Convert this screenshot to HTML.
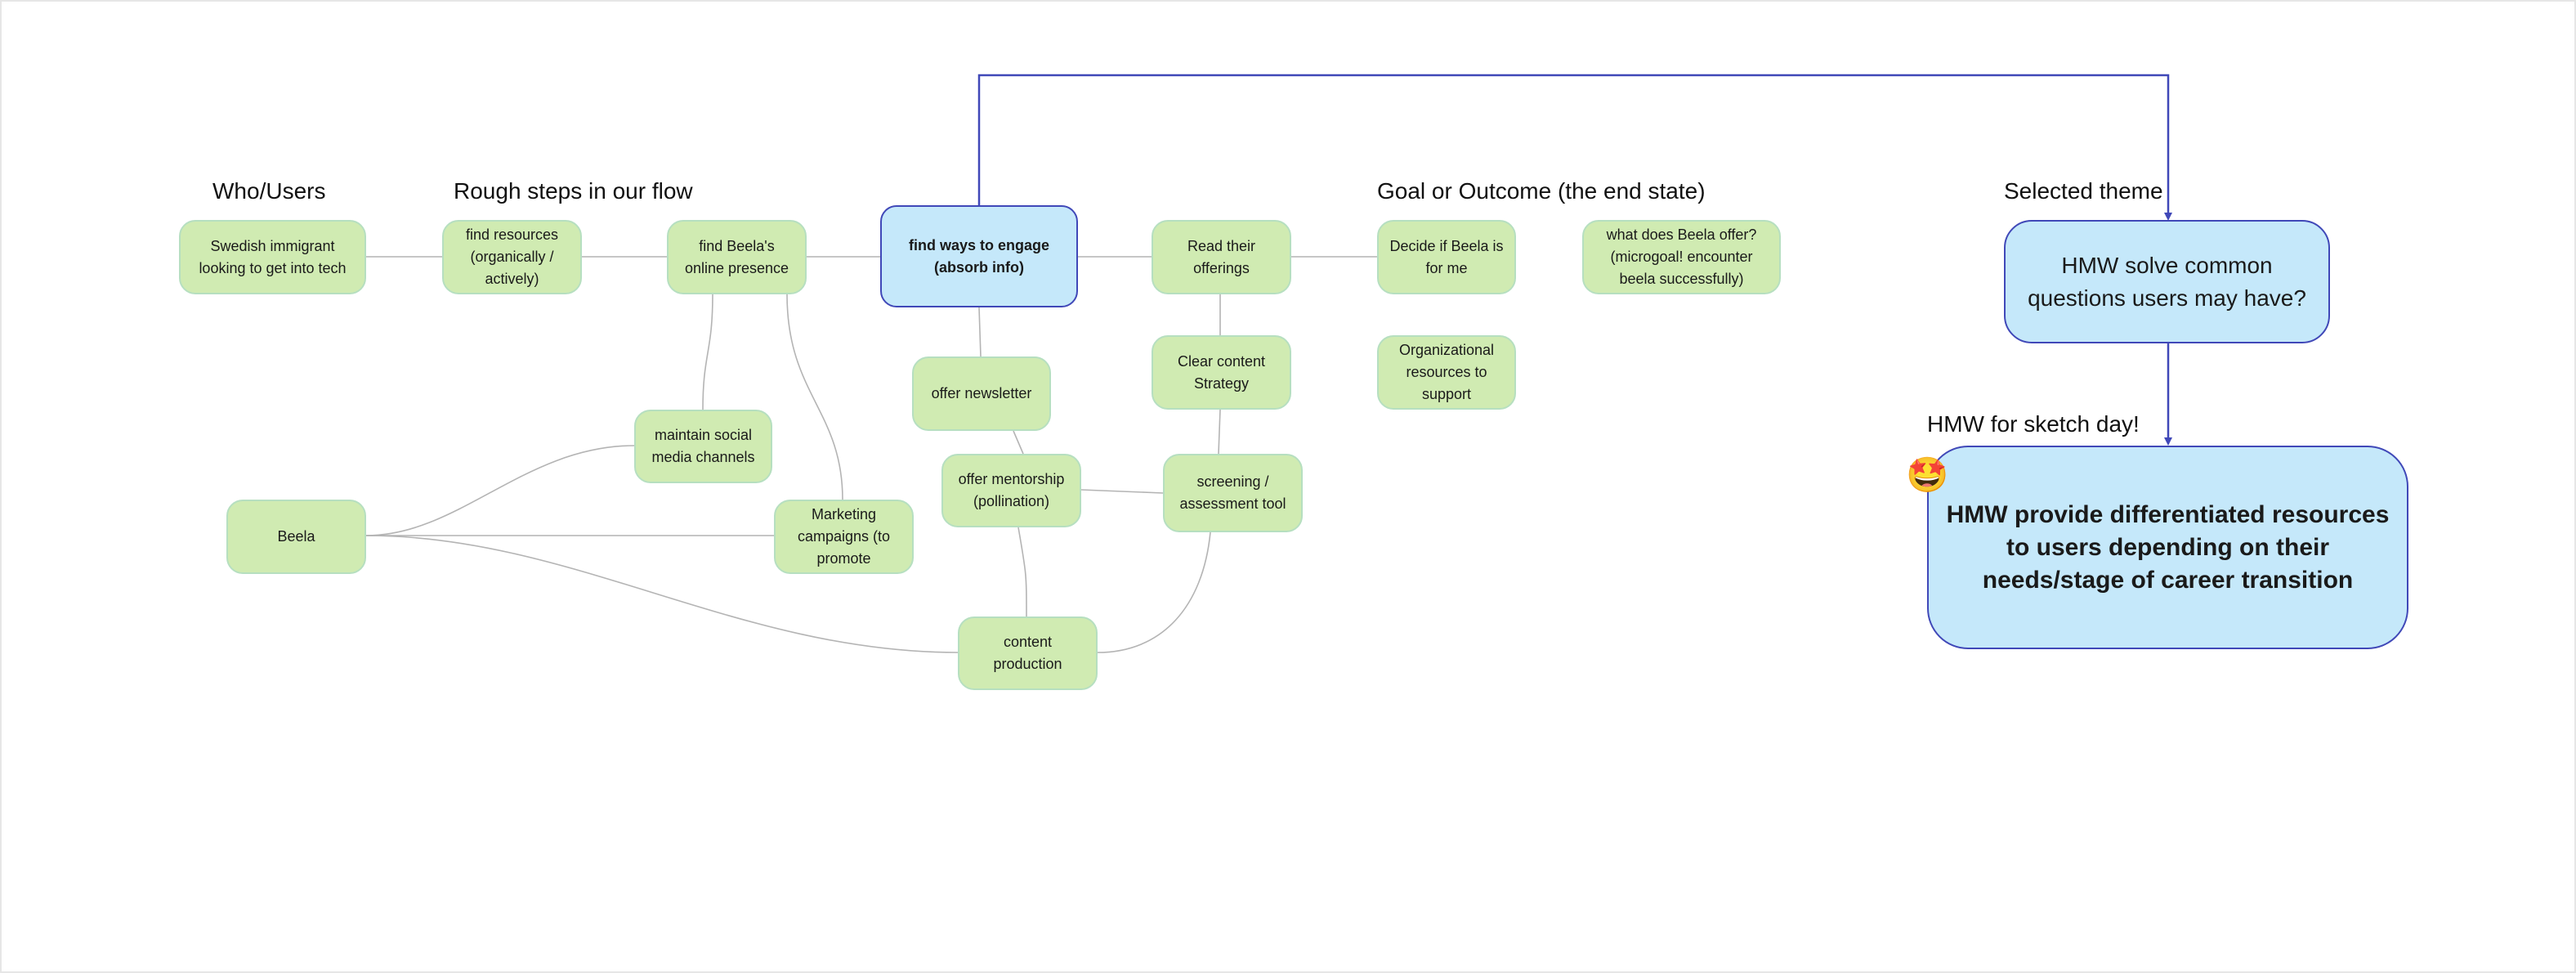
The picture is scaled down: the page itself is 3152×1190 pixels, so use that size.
<!DOCTYPE html>
<html><head><meta charset="utf-8"><style>
html,body{margin:0;padding:0;background:#fff}
#c{position:relative;width:3152px;height:1190px;overflow:hidden;background:#fff;box-sizing:border-box;border:2px solid #e6e6e6}
.n{position:absolute;box-sizing:border-box;background:#d0ebb2;border:2px solid #b6dfc0;border-radius:20px;display:flex;align-items:center;justify-content:center;text-align:center;font-family:"Liberation Sans",sans-serif;font-size:18px;line-height:27px;color:#1a1a1a;padding:0 10px}
.b{background:#c5e8fa;border:2.5px solid #4048b8}
.h{position:absolute;font-family:"Liberation Sans",sans-serif;font-size:28px;color:#111;white-space:nowrap}
svg{position:absolute;left:0;top:0}
</style></head><body><div id="c">
<svg width="3152" height="1190">
<g fill="none" stroke="#b4b4b4" stroke-width="1.6">
<path d="M446 312H539M710 312H814M985 312H1075M1317 312H1407M1578 312H1683"/>
<path d="M870 358C870 430 858 430 858 499"/>
<path d="M961 358C961 480 1029 500 1029 609"/>
<path d="M1196 374L1198 434"/>
<path d="M1238 525L1250 553"/>
<path d="M1321 597L1421 601"/>
<path d="M1244 643C1254 700 1254 700 1254 752"/>
<path d="M1479 649C1470 740 1420 796 1341 796"/>
<path d="M1491 358V408M1491 499L1489 553"/>
<path d="M446 653C560 653 640 543 774 543"/>
<path d="M446 653H945"/>
<path d="M446 653C700 653 900 796 1170 796"/>
</g>
<g fill="none" stroke="#4048b8" stroke-width="2.5">
<path d="M1196 249V90H2651V262"/>
<path d="M2651 418V538"/>
</g>
<path d="M2646 258L2656 258L2651 268Z M2646 533L2656 533L2651 543Z" fill="#4048b8"/>
</svg>
<div class="h" style="left:258px;top:216px">Who/Users</div>
<div class="h" style="left:553px;top:216px">Rough steps in our flow</div>
<div class="h" style="left:1683px;top:216px">Goal or Outcome (the end state)</div>
<div class="h" style="left:2450px;top:216px">Selected theme</div>
<div class="h" style="left:2356px;top:501px">HMW for sketch day!</div>

<div class="n" style="left:217px;top:267px;width:229px;height:91px">Swedish immigrant looking to get into tech</div>
<div class="n" style="left:539px;top:267px;width:171px;height:91px">find resources (organically / actively)</div>
<div class="n" style="left:814px;top:267px;width:171px;height:91px;padding:0 14px">find Beela's online presence</div>
<div class="n b" style="left:1075px;top:249px;width:242px;height:125px;font-weight:bold">find ways to engage (absorb info)</div>
<div class="n" style="left:1407px;top:267px;width:171px;height:91px">Read their offerings</div>
<div class="n" style="left:1683px;top:267px;width:170px;height:91px">Decide if Beela is for me</div>
<div class="n" style="left:1934px;top:267px;width:243px;height:91px">what does Beela offer? (microgoal! encounter beela successfully)</div>
<div class="n" style="left:1683px;top:408px;width:170px;height:91px">Organizational resources to support</div>
<div class="n" style="left:1407px;top:408px;width:171px;height:91px">Clear content Strategy</div>
<div class="n" style="left:1114px;top:434px;width:170px;height:91px">offer newsletter</div>
<div class="n" style="left:774px;top:499px;width:169px;height:90px">maintain social media channels</div>
<div class="n" style="left:1150px;top:553px;width:171px;height:90px;padding:0 6px">offer mentorship (pollination)</div>
<div class="n" style="left:1421px;top:553px;width:171px;height:96px;padding:0 6px">screening / assessment tool</div>
<div class="n" style="left:275px;top:609px;width:171px;height:91px">Beela</div>
<div class="n" style="left:945px;top:609px;width:171px;height:91px">Marketing campaigns (to promote</div>
<div class="n" style="left:1170px;top:752px;width:171px;height:90px">content production</div>

<div class="n b" style="left:2450px;top:267px;width:399px;height:151px;border-radius:34px;font-size:28px;line-height:40px;padding:0 20px">HMW solve common questions users may have?</div>
<div class="n b" style="left:2356px;top:543px;width:589px;height:249px;border-radius:50px;font-size:30px;line-height:40px;font-weight:bold;padding:0 20px">HMW provide differentiated resources to users depending on their needs/stage of career transition</div>
<div style="position:absolute;left:2330px;top:555px;width:50px;height:50px;font-size:42px;line-height:50px;text-align:center">🤩</div>
</div></body></html>
